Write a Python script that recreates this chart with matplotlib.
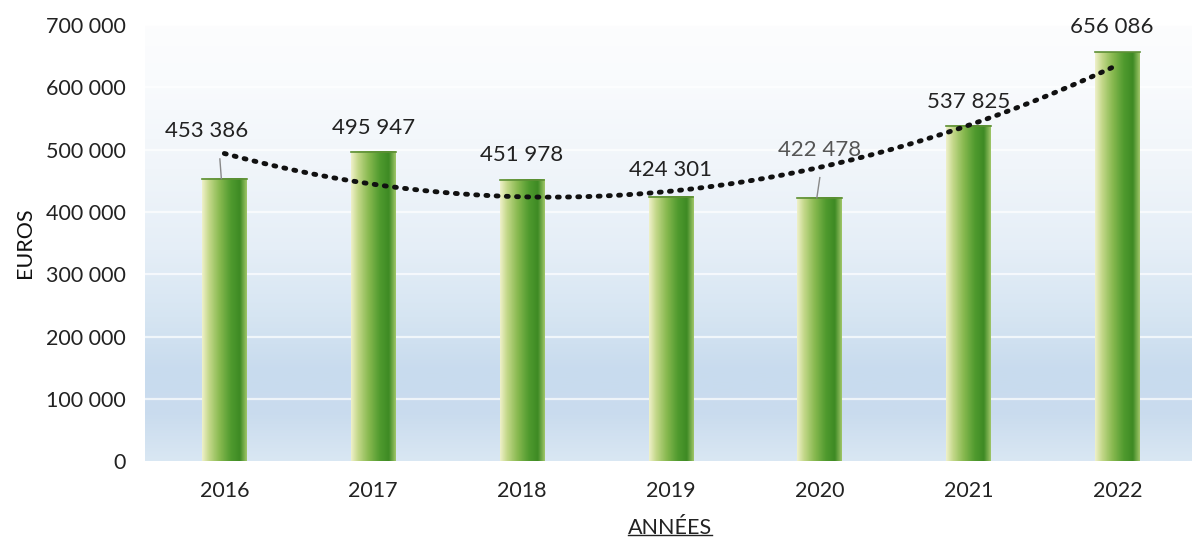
import numpy as np
import matplotlib
matplotlib.use("Agg")
import matplotlib.pyplot as plt
from matplotlib.colors import LinearSegmentedColormap
from matplotlib.lines import Line2D

plt.rcParams['font.family'] = ['Lato', 'DejaVu Sans']

years = ["2016", "2017", "2018", "2019", "2020", "2021", "2022"]
values = [453386, 495947, 451978, 424301, 422478, 537825, 656086]
labels = ["453 386", "495 947", "451 978", "424 301", "422 478", "537 825", "656 086"]
yticks = [0, 100000, 200000, 300000, 400000, 500000, 600000, 700000]
ytick_labels = ["0", "100 000", "200 000", "300 000", "400 000", "500 000", "600 000", "700 000"]

# label offsets (in data units) above each bar, some use a leader line
label_y = [530000, 535000, 491000, 467000, 500000, 577000, 697000]
label_x_shift = [-0.12, 0, 0, 0, 0, 0, -0.04]
leaders = [True, False, False, False, True, False, False]
label_colors = ["#222222"] * 7
label_colors[4] = "#555555"

fig = plt.figure(figsize=(11.92, 5.42), dpi=100)
ax = fig.add_axes([0.122, 0.149, 0.878, 0.805])
x = np.arange(len(years))
ax.set_xlim(-0.53, 6.5)
ax.set_ylim(0, 700000)

# soft blue background
bg = LinearSegmentedColormap.from_list("bg", [
    (0.0, "#d9e7f3"), (0.1, "#cadcee"), (0.2, "#c8dbee"),
    (0.32, "#d6e5f2"), (0.47, "#e5eef7"), (0.65, "#f0f5fa"),
    (0.85, "#f9fbfd"), (1.0, "#fdfdfe")])
grad = np.linspace(0, 1, 256).reshape(-1, 1)
ax.imshow(grad, cmap=bg, aspect="auto", origin="lower",
          extent=(-0.53, 6.5, 0, 720000), zorder=0)
for t in yticks[1:]:
    ax.axhline(t, color="white", lw=1.6, alpha=0.7, zorder=1)

# cylinder-shaded bars
bar_cmap = LinearSegmentedColormap.from_list("bar", [
    (0.0, "#eef0c8"), (0.15, "#c4d88a"), (0.4, "#86b84e"),
    (0.65, "#4f9a2e"), (0.85, "#3e8a24"), (1.0, "#9cc466")])
shade = np.linspace(0, 1, 64).reshape(1, -1)
w = 0.3
for xi, v in zip(x, values):
    ax.imshow(shade, cmap=bar_cmap, aspect="auto",
              extent=(xi - w / 2, xi + w / 2, 0, v), zorder=2)
    ax.plot([xi - w / 2, xi + w / 2], [v, v], color="#5d8f35", lw=1.2, zorder=3)

# polynomial trend line
coef = np.polyfit(x, values, 2)
xs = np.linspace(0, 6, 200)
ax.plot(xs, np.polyval(coef, xs), color="#111111", lw=3.5,
        linestyle=(0, (0.4, 1.7)), dash_capstyle="round", zorder=4)

for xi, v, lbl, ly, dx, lead, c in zip(x, values, labels, label_y, label_x_shift, leaders, label_colors):
    ax.text(xi + dx, ly, lbl, ha="center", va="center", fontsize=16, color=c, zorder=5)
    if lead:
        ax.plot([xi - 0.02, xi - 0.03 if dx else xi], [v, ly - 45000], color="#888888", lw=1, zorder=3)

ax.set_xticks(x)
ax.set_xticklabels(years, fontsize=15.5, color="#222222")
ax.set_yticks(yticks)
ax.set_yticklabels(ytick_labels, fontsize=15.5, color="#222222")
ax.tick_params(length=0)
ax.tick_params(axis="x", pad=14)
ax.tick_params(axis="y", pad=14)
for s in ax.spines.values():
    s.set_visible(False)

ax.set_ylabel("EUROS", fontsize=15.5, color="#111111", labelpad=8)
xl = fig.text(0.562, 0.008, "ANNÉES", ha="center", va="bottom", fontsize=15.5, color="#222222")

# underline for the x axis title
fig.canvas.draw()
bb = xl.get_window_extent().transformed(fig.transFigure.inverted())
fig.add_artist(Line2D([bb.x0, bb.x1], [bb.y0 + 0.004, bb.y0 + 0.004],
                      transform=fig.transFigure, color="#222222", lw=1))

fig.savefig("out.png", dpi=100)
